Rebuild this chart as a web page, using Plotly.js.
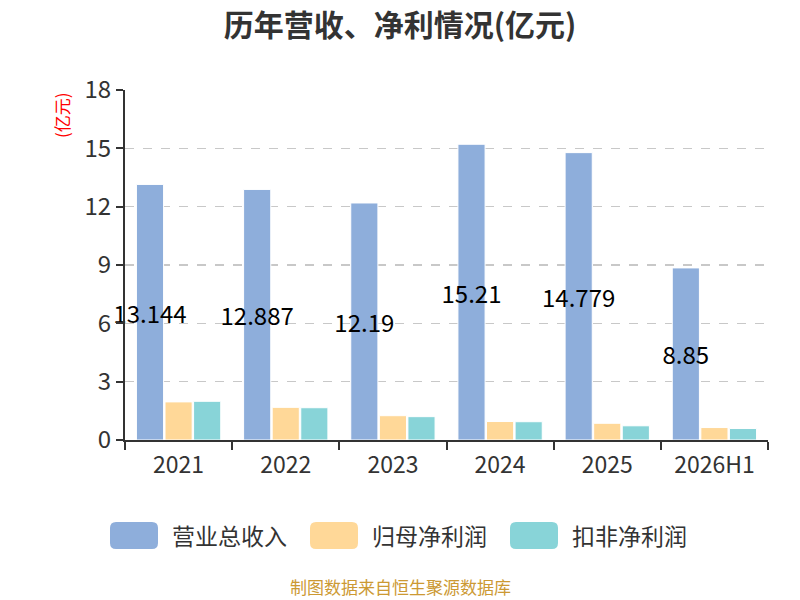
<!DOCTYPE html>
<html>
<head>
<meta charset="utf-8">
<script src="https://cdn.plot.ly/plotly-3.0.1.min.js"></script>
<style>
  body { margin: 0; background: #fff; }
  #chart { width: 800px; height: 600px; }
</style>
</head>
<body>
<div id="chart"></div>
<script>
// data
const years = ["2021", "2022", "2023", "2024", "2025", "2026H1"];
const revenue = [13.144, 12.887, 12.19, 15.21, 14.779, 8.85];
const netProfit = [1.96, 1.68, 1.25, 0.95, 0.86, 0.64];
const deductedProfit = [1.99, 1.66, 1.20, 0.94, 0.73, 0.59];
const seriesNames = ["营业总收入", "归母净利润", "扣非净利润"];
const yTicks = [0, 3, 6, 9, 12, 15, 18];

const colors = ["#8eaedb", "#ffd898", "#88d4d8"];
const FONT = "Noto Sans CJK SC, Noto Sans, sans-serif";

// plot area in pixels
const L = 125, R = 768, T = 90, B = 440;
const px = (x) => (x - L) / (R - L);
const py = (y) => (B - y) / (B - T);

const bar = (name, y, color, extra) => Object.assign({
    type: "bar",
    name: name,
    x: years,
    y: y,
    marker: { color: color, line: { color: "#ffffff", width: 1 } },
    cliponaxis: false,
    hoverinfo: "skip",
}, extra || {});

const traces = [
    bar(seriesNames[0], revenue, colors[0], {
        text: revenue.map(String),
        textposition: "inside",
        insidetextanchor: "middle",
        constraintext: "none",
        textangle: 0,
        textfont: { family: FONT, size: 24, color: "#000000" },
    }),
    bar(seriesNames[1], netProfit, colors[1]),
    bar(seriesNames[2], deductedProfit, colors[2]),
];

// rounded legend swatch as a path in paper coords
const swatch = (x0, y0, x1, y1, r, color) => {
    const X = px, Y = py;
    const d = [
        "M", X(x0 + r), Y(y0),
        "L", X(x1 - r), Y(y0),
        "Q", X(x1), Y(y0), X(x1), Y(y0 + r),
        "L", X(x1), Y(y1 - r),
        "Q", X(x1), Y(y1), X(x1 - r), Y(y1),
        "L", X(x0 + r), Y(y1),
        "Q", X(x0), Y(y1), X(x0), Y(y1 - r),
        "L", X(x0), Y(y0 + r),
        "Q", X(x0), Y(y0), X(x0 + r), Y(y0),
        "Z",
    ].join(" ");
    return {
        type: "path", xref: "paper", yref: "paper", path: d,
        fillcolor: color, line: { width: 0 }, layer: "above",
    };
};

const legendX = [110, 310, 510];
const shapes = legendX.map((x, i) => swatch(x, 522, x + 48, 549, 6, colors[i]));

const annotations = legendX.map((x, i) => ({
    xref: "paper", yref: "paper",
    x: px(x + 60), y: py(535),
    xanchor: "left", yanchor: "middle",
    text: seriesNames[i],
    showarrow: false,
    font: { family: FONT, size: 23, color: "#333333" },
}));

annotations.push({
    xref: "paper", yref: "paper",
    x: px(62), y: py(115),
    xanchor: "center", yanchor: "middle",
    text: "(亿元)",
    textangle: -90,
    showarrow: false,
    font: { family: FONT, size: 17, color: "#ff0000" },
});

annotations.push({
    xref: "paper", yref: "paper",
    x: px(400), y: py(586),
    xanchor: "center", yanchor: "middle",
    text: "制图数据来自恒生聚源数据库",
    showarrow: false,
    font: { family: FONT, size: 17, color: "#cc9933" },
});

const layout = {
    width: 800,
    height: 600,
    margin: { l: L, r: 800 - R, t: T, b: 600 - B, pad: 0 },
    paper_bgcolor: "#ffffff",
    plot_bgcolor: "#ffffff",
    title: {
        text: "<b>历年营收、净利情况(亿元)</b>",
        x: 0.5,
        xanchor: "center",
        yref: "container",
        y: 1 - 25 / 600,
        yanchor: "middle",
        font: { family: FONT, size: 30, color: "#333333" },
    },
    showlegend: false,
    barmode: "group",
    bargap: 0.2,
    bargroupgap: 0.05,
    font: { family: FONT, color: "#333333" },
    xaxis: {
        type: "category",
        showline: true,
        linecolor: "#333333",
        linewidth: 2,
        ticks: "outside",
        tickson: "boundaries",
        ticklen: 8,
        tickwidth: 2,
        tickcolor: "#333333",
        ticklabelstandoff: 3,
        showgrid: false,
        tickfont: { family: FONT, size: 23, color: "#333333" },
        fixedrange: true,
    },
    yaxis: {
        range: [0, 18],
        tickvals: yTicks,
        ticktext: yTicks.map(String),
        showline: true,
        linecolor: "#333333",
        linewidth: 2,
        ticks: "outside",
        ticklen: 7,
        tickwidth: 2,
        tickcolor: "#333333",
        showgrid: true,
        gridcolor: "#c8c8c8",
        griddash: "dash",
        gridwidth: 1.5,
        zeroline: false,
        tickfont: { family: FONT, size: 24, color: "#333333" },
        fixedrange: true,
    },
    shapes: shapes,
    annotations: annotations,
};

Plotly.newPlot("chart", traces, layout, { displayModeBar: false, staticPlot: true });
</script>
</body>
</html>
